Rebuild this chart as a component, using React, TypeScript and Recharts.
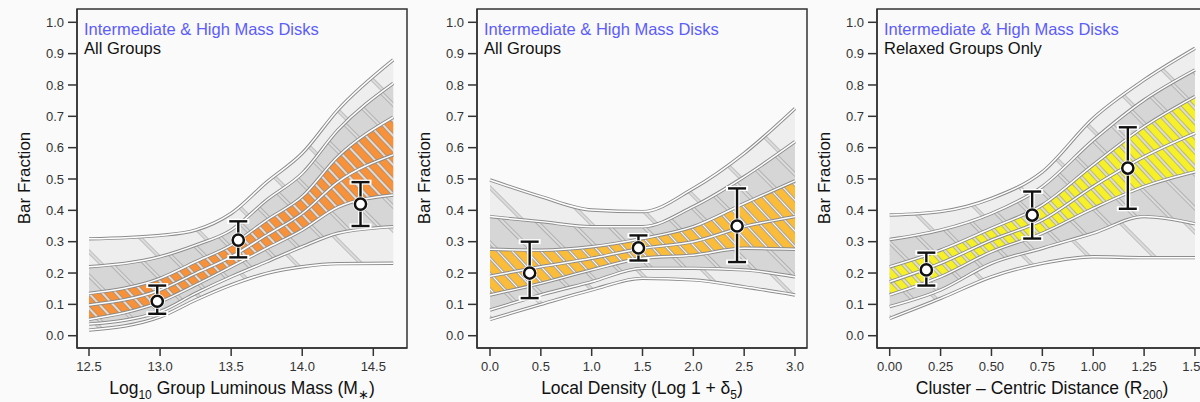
import React from "react";
import {
  ComposedChart,
  Area,
  Line,
  Scatter,
  ErrorBar,
  XAxis,
  YAxis,
  ReferenceArea,
} from "recharts";

// ---- panel 1: group luminous mass ----
const massX = [12.5, 13.0, 13.25, 13.5, 13.75, 14.0, 14.25, 14.64];
const massOuterHi = [0.309, 0.32, 0.337, 0.39, 0.49, 0.582, 0.72, 0.88];
const massGrayHi = [0.22, 0.252, 0.289, 0.337, 0.433, 0.518, 0.656, 0.805];
const massBandHi = [0.135, 0.183, 0.236, 0.289, 0.369, 0.444, 0.571, 0.697];
const massMid = [0.098, 0.146, 0.199, 0.252, 0.321, 0.39, 0.49, 0.577];
const massBandLo = [0.052, 0.108, 0.162, 0.22, 0.279, 0.337, 0.41, 0.449];
const massGrayLo = [0.037, 0.077, 0.135, 0.188, 0.236, 0.284, 0.327, 0.348];
const massOuterLo = [0.018, 0.06, 0.114, 0.162, 0.199, 0.22, 0.23, 0.231];
const massPts = [
  { x: 12.98, y: 0.11, err: [0.04, 0.05] },
  { x: 13.55, y: 0.305, err: [0.055, 0.06] },
  { x: 14.41, y: 0.42, err: [0.07, 0.07] },
];
const massTicks = [12.5, 13.0, 13.5, 14.0, 14.5];

// ---- panel 2: local density ----
const densX = [0.0, 0.5, 1.0, 1.5, 2.0, 2.5, 3.0];
const densOuterHi = [0.497, 0.444, 0.401, 0.396, 0.47, 0.582, 0.725];
const densGrayHi = [0.38, 0.364, 0.348, 0.348, 0.412, 0.507, 0.619];
const densBandHi = [0.276, 0.273, 0.284, 0.31, 0.348, 0.422, 0.494];
const densMid = [0.19, 0.22, 0.247, 0.279, 0.3, 0.348, 0.38];
const densBandLo = [0.13, 0.167, 0.21, 0.247, 0.257, 0.279, 0.276];
const densGrayLo = [0.082, 0.13, 0.172, 0.215, 0.215, 0.21, 0.188];
const densOuterLo = [0.052, 0.1, 0.146, 0.183, 0.178, 0.156, 0.13];
const densPts = [
  { x: 0.39, y: 0.2, err: [0.08, 0.1] },
  { x: 1.46, y: 0.28, err: [0.04, 0.04] },
  { x: 2.43, y: 0.35, err: [0.115, 0.12] },
];
const densTicks = [0, 0.5, 1.0, 1.5, 2.0, 2.5, 3.0];

// ---- panel 3: cluster-centric distance ----
const distX = [0.0, 0.25, 0.5, 0.75, 1.0, 1.25, 1.5];
const distOuterHi = [0.385, 0.396, 0.438, 0.523, 0.694, 0.816, 0.917];
const distGrayHi = [0.307, 0.337, 0.39, 0.476, 0.624, 0.752, 0.848];
const distBandHi = [0.22, 0.273, 0.343, 0.417, 0.545, 0.667, 0.763];
const distMid = [0.172, 0.231, 0.305, 0.369, 0.476, 0.571, 0.646];
const distBandLo = [0.13, 0.188, 0.268, 0.327, 0.406, 0.476, 0.523];
const distGrayLo = [0.093, 0.146, 0.231, 0.279, 0.327, 0.38, 0.357];
const distOuterLo = [0.055, 0.119, 0.188, 0.231, 0.252, 0.249, 0.249];
const distPts = [
  { x: 0.18, y: 0.21, err: [0.05, 0.055] },
  { x: 0.7, y: 0.385, err: [0.075, 0.075] },
  { x: 1.17, y: 0.535, err: [0.13, 0.13] },
];
const distTicks = [0, 0.25, 0.5, 0.75, 1.0, 1.25, 1.5];

const yTicks = [0, 0.1, 0.2, 0.3, 0.4, 0.5, 0.6, 0.7, 0.8, 0.9, 1.0];

const FONT = "'Liberation Sans', Arial, Helvetica, sans-serif";
const AXIS = "#333";
const LIGHT = "#eeeeee";
const GRAY = "#d6d6d6";
const EDGE = "#8c8c8c";

const bounds = ["oLo", "oHi", "gLo", "gHi", "cLo", "cHi", "mid"];

function rows(x, oHi, gHi, cHi, mid, cLo, gLo, oLo) {
  return x.map((v, i) => ({
    x: v,
    oHi: oHi[i],
    gHi: gHi[i],
    cHi: cHi[i],
    mid: mid[i],
    cLo: cLo[i],
    gLo: gLo[i],
    oLo: oLo[i],
  }));
}

function Hatch({ id, color, gap, angle }) {
  return (
    <pattern
      id={id}
      patternUnits="userSpaceOnUse"
      width={gap}
      height={gap}
      patternTransform={`rotate(${angle})`}
    >
      <rect x={0} y={0} width={gap} height={gap} fill={color} />
      <line x1={gap / 2} y1={0} x2={gap / 2} y2={gap} stroke={EDGE} strokeWidth={3} />
      <line x1={gap / 2} y1={0} x2={gap / 2} y2={gap} stroke="#fff" strokeWidth={1.4} />
    </pattern>
  );
}

function Point(props) {
  const { cx, cy } = props;
  if (cx == null || cy == null) return null;
  return (
    <g>
      <circle cx={cx} cy={cy} r={7.6} fill="#fff" />
      <circle cx={cx} cy={cy} r={5.6} fill="#fff" stroke="#111" strokeWidth={2.5} />
    </g>
  );
}

function Panel({ id, left, data, pts, domain, ticks, digits, color, bandGap, line2, title }) {
  return (
    <div style={{ position: "absolute", left, top: 0, width: 410, height: 402 }}>
      <ComposedChart
        width={410}
        height={402}
        data={data}
        margin={{ top: 9, right: 3, bottom: 24, left: 37 }}
      >
        <defs>
          <Hatch id={`${id}-o`} color={LIGHT} gap={46} angle={-45} />
          <Hatch id={`${id}-g`} color={GRAY} gap={24} angle={-45} />
          <Hatch id={`${id}-c`} color={color} gap={bandGap} angle={-43} />
        </defs>
        <XAxis
          dataKey="x"
          type="number"
          domain={domain}
          ticks={ticks}
          allowDataOverflow
          height={30}
          tickSize={8}
          tickMargin={6}
          stroke={AXIS}
          strokeWidth={1.5}
          tick={{ fill: AXIS, fontSize: 13, fontFamily: FONT }}
          tickFormatter={(v) => v.toFixed(digits)}
        />
        <YAxis
          type="number"
          domain={[-0.0392, 1.0424]}
          ticks={yTicks}
          allowDataOverflow
          width={40}
          tickSize={9}
          tickMargin={4}
          stroke={AXIS}
          strokeWidth={1.5}
          tick={{ fill: AXIS, fontSize: 13, fontFamily: FONT }}
          tickFormatter={(v) => v.toFixed(1)}
        />
        <ReferenceArea
          x1={domain[0]}
          x2={domain[1]}
          y1={-0.0392}
          y2={1.0424}
          fill="none"
          stroke={AXIS}
          strokeWidth={1.5}
          ifOverflow="extendDomain"
        />
        <Area
          type="monotone"
          dataKey={(d) => [d.oLo, d.oHi]}
          fill={`url(#${id}-o)`}
          fillOpacity={1}
          stroke="none"
          isAnimationActive={false}
        />
        <Area
          type="monotone"
          dataKey={(d) => [d.gLo, d.gHi]}
          fill={`url(#${id}-g)`}
          fillOpacity={1}
          stroke="none"
          isAnimationActive={false}
        />
        <Area
          type="monotone"
          dataKey={(d) => [d.cLo, d.cHi]}
          fill={`url(#${id}-c)`}
          fillOpacity={1}
          stroke="none"
          isAnimationActive={false}
        />
        {bounds.map((k) => (
          <Line
            key={k + "e"}
            type="monotone"
            dataKey={k}
            stroke={EDGE}
            strokeWidth={3.4}
            dot={false}
            activeDot={false}
            isAnimationActive={false}
          />
        ))}
        {bounds.map((k) => (
          <Line
            key={k + "w"}
            type="monotone"
            dataKey={k}
            stroke="#fff"
            strokeWidth={1.5}
            dot={false}
            activeDot={false}
            isAnimationActive={false}
          />
        ))}
        <Scatter data={pts} dataKey="y" shape={Point} isAnimationActive={false}>
          <ErrorBar dataKey="err" direction="y" width={11} stroke="#fff" strokeWidth={5} />
          <ErrorBar dataKey="err" direction="y" width={9} stroke="#111" strokeWidth={2.4} />
        </Scatter>
      </ComposedChart>
      <div
        style={{
          position: "absolute",
          left: 84,
          top: 20,
          fontFamily: FONT,
          fontSize: 16.5,
          lineHeight: "19px",
          whiteSpace: "nowrap",
        }}
      >
        <div style={{ color: "#5c5cff" }}>Intermediate &amp; High Mass Disks</div>
        <div style={{ color: "#111" }}>{line2}</div>
      </div>
      <div
        style={{
          position: "absolute",
          left: 25 - 80,
          top: 178 - 10,
          width: 160,
          height: 20,
          textAlign: "center",
          transform: "rotate(-90deg)",
          fontFamily: FONT,
          fontSize: 17,
          lineHeight: "20px",
          color: "#111",
          whiteSpace: "nowrap",
        }}
      >
        Bar Fraction
      </div>
      <div
        style={{
          position: "absolute",
          left: 77,
          top: 378,
          width: 330,
          textAlign: "center",
          fontFamily: FONT,
          fontSize: 17.5,
          lineHeight: "20px",
          color: "#111",
          whiteSpace: "nowrap",
        }}
      >
        {title}
      </div>
    </div>
  );
}

export default function App() {
  const massData = rows(massX, massOuterHi, massGrayHi, massBandHi, massMid, massBandLo, massGrayLo, massOuterLo);
  const densData = rows(densX, densOuterHi, densGrayHi, densBandHi, densMid, densBandLo, densGrayLo, densOuterLo);
  const distData = rows(distX, distOuterHi, distGrayHi, distBandHi, distMid, distBandLo, distGrayLo, distOuterLo);

  return (
    <div
      style={{
        position: "absolute",
        left: 0,
        top: 0,
        width: 1200,
        height: 402,
        overflow: "hidden",
        background: "#fafafa",
      }}
    >
      <Panel
        id="p1"
        left={0}
        data={massData}
        pts={massPts}
        domain={[12.4156, 14.737]}
        ticks={massTicks}
        digits={1}
        color="#f7923a"
        bandGap={10}
        line2="All Groups"
        title={
          <span>
            Log<sub style={{ fontSize: 12 }}>10</sub> Group Luminous Mass (M<sub style={{ fontSize: 13 }}>∗</sub>)
          </span>
        }
      />
      <Panel
        id="p2"
        left={400}
        data={densData}
        pts={densPts}
        domain={[-0.128, 3.118]}
        ticks={densTicks}
        digits={1}
        color="#fbbc3a"
        bandGap={10.5}
        line2="All Groups"
        title={
          <span>
            Local Density (Log 1 + δ<sub style={{ fontSize: 12 }}>5</sub>)
          </span>
        }
      />
      <Panel
        id="p3"
        left={800}
        data={distData}
        pts={distPts}
        domain={[-0.0624, 1.559]}
        ticks={distTicks}
        digits={2}
        color="#f5f02a"
        bandGap={10}
        line2="Relaxed Groups Only"
        title={
          <span>
            Cluster – Centric Distance (R<sub style={{ fontSize: 12 }}>200</sub>)
          </span>
        }
      />
    </div>
  );
}
